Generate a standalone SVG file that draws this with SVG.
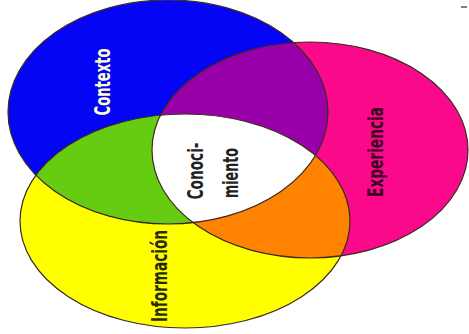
<svg xmlns="http://www.w3.org/2000/svg" width="469" height="334" viewBox="0 0 469 334">
<style>
.ol{fill:none;stroke:#3a2a20;stroke-width:1.2}
.t{font-family:"Liberation Sans Narrow","Arial Narrow","DejaVu Sans Condensed",sans-serif;font-weight:bold;font-size:22px;text-anchor:middle;font-stretch:condensed}
</style>
<defs>
<ellipse id="eB" cx="168" cy="112" rx="160" ry="112"/>
<ellipse id="eP" cx="310" cy="150" rx="158" ry="108"/>
<ellipse id="eY" cx="185" cy="221" rx="165" ry="107"/>
<clipPath id="cB"><use href="#eB"/></clipPath>
<clipPath id="cP"><use href="#eP"/></clipPath>
<clipPath id="cY"><use href="#eY"/></clipPath>
</defs>
<rect width="469" height="334" fill="#fff"/>
<g id="informacion">
<use href="#eY" fill="#ffff00"/>
</g>
<g id="experiencia">
<use href="#eP" fill="#fa0a8a"/>
</g>
<g id="contexto">
<use href="#eB" fill="#0505f5"/>
</g>
<g id="overlaps">
<g clip-path="url(#cB)"><use href="#eP" fill="#9a00aa"/></g>
<g clip-path="url(#cB)"><use href="#eY" fill="#66cc12"/></g>
<g clip-path="url(#cP)"><use href="#eY" fill="#ff8200"/></g>
<g clip-path="url(#cB)"><g clip-path="url(#cP)"><use href="#eY" fill="#ffffff"/></g></g>
</g>
<g id="outlines">
<use href="#eB" class="ol"/>
<use href="#eP" class="ol"/>
<use href="#eY" class="ol"/>
</g>
<g id="labels">
<text class="t" fill="#ffffcc" transform="translate(110,82) rotate(-90)" textLength="67" lengthAdjust="spacingAndGlyphs">Contexto</text>
<text class="t" fill="#3a0020" transform="translate(383,152) rotate(-90)" textLength="90" lengthAdjust="spacingAndGlyphs">Experiencia</text>
<text class="t" fill="#222" transform="translate(203,171) rotate(-90)" textLength="57" lengthAdjust="spacingAndGlyphs">Conoci-</text>
<text class="t" fill="#222" transform="translate(238,173) rotate(-90)" textLength="50" lengthAdjust="spacingAndGlyphs">miento</text>
<text class="t" fill="#2a2a00" transform="translate(167,276) rotate(-90)" textLength="92" lengthAdjust="spacingAndGlyphs">Información</text>
</g>
<line x1="461" y1="7" x2="467" y2="7" stroke="#555" stroke-width="1.5"/>
</svg>
